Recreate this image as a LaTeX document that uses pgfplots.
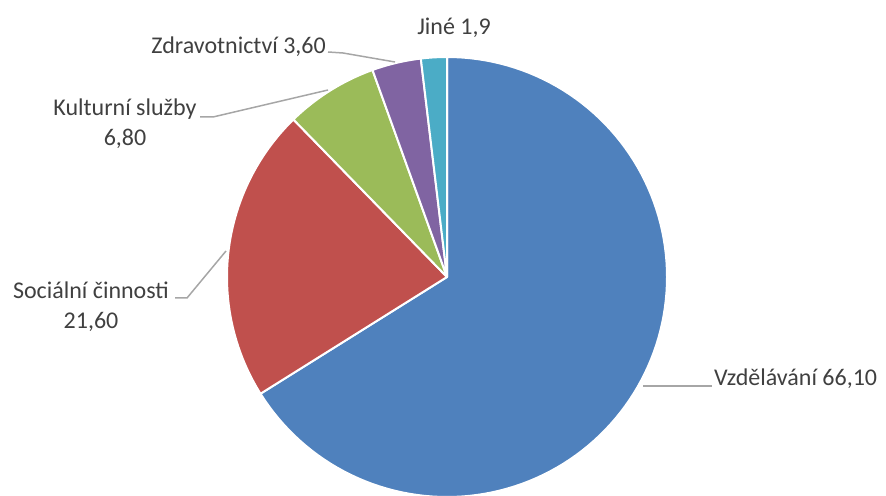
\documentclass[border=0pt]{standalone}
\usepackage{pgfplots}
\pgfplotsset{compat=1.18}
\usepackage{fontspec}
\setmainfont{Carlito}

\definecolor{pieblue}{HTML}{4F81BD}
\definecolor{piered}{HTML}{C0504D}
\definecolor{piegreen}{HTML}{9BBB59}
\definecolor{piepurple}{HTML}{8064A2}
\definecolor{pieaqua}{HTML}{4BACC6}
\definecolor{labeltext}{HTML}{404040}
\definecolor{leader}{HTML}{A6A6A6}

% values (percent)
\def\vVzd{66.10}
\def\vSoc{21.60}
\def\vKul{6.80}
\def\vZdr{3.60}
\def\vJin{1.9}

\begin{document}
\begin{tikzpicture}
  \useasboundingbox (0,0) rectangle (886bp,496bp);
  % cumulative angles, clockwise from the top
  \pgfmathsetmacro\aA{90}
  \pgfmathsetmacro\aB{\aA-3.6*\vVzd}
  \pgfmathsetmacro\aC{\aB-3.6*\vSoc}
  \pgfmathsetmacro\aD{\aC-3.6*\vKul}
  \pgfmathsetmacro\aE{\aD-3.6*\vZdr}
  \pgfmathsetmacro\aF{\aE-3.6*\vJin}
  \begin{axis}[
    at={(0,0)}, anchor=south west,
    scale only axis,
    width=886bp, height=496bp,
    xmin=0, xmax=886, ymin=0, ymax=496,
    hide axis,
    clip=false,
    every axis plot/.append style={draw=white, line width=2pt, line join=round},
    samples=120,
  ]
  \addplot[fill=pieblue, domain=\aB:\aA] ({447+220*cos(x)},{219+220*sin(x)}) -- (447,219) -- cycle;
  \addplot[fill=piered, domain=\aC:\aB] ({447+220*cos(x)},{219+220*sin(x)}) -- (447,219) -- cycle;
  \addplot[fill=piegreen, domain=\aD:\aC] ({447+220*cos(x)},{219+220*sin(x)}) -- (447,219) -- cycle;
  \addplot[fill=piepurple, domain=\aE:\aD] ({447+220*cos(x)},{219+220*sin(x)}) -- (447,219) -- cycle;
  \addplot[fill=pieaqua, domain=\aF:\aE] ({447+220*cos(x)},{219+220*sin(x)}) -- (447,219) -- cycle;

  % leader lines
  \draw[leader, line width=1.5pt] (328,444) -- (343,443) -- (395,434);
  \draw[leader, line width=1.5pt] (200,379) -- (213,379) -- (328,406);
  \draw[leader, line width=1.5pt] (175,198) -- (187,198) -- (226,245);
  \draw[leader, line width=1.5pt] (643,110) -- (712,110);

  % labels
  \begin{scope}[every node/.style={text=labeltext, font=\fontsize{24bp}{30bp}\selectfont, inner sep=0pt}]
    \node at (454,468) {Jiné 1,9};
    \node[anchor=east] at (326,449) {Zdravotnictví 3,60};
    \node[align=center] at (125,372) {Kulturní služby\\6,80};
    \node[align=center] at (91,189) {Sociální činnosti\\21,60};
    \node[anchor=west] at (714,117) {Vzdělávání 66,10};
  \end{scope}
  \end{axis}
\end{tikzpicture}
\end{document}
